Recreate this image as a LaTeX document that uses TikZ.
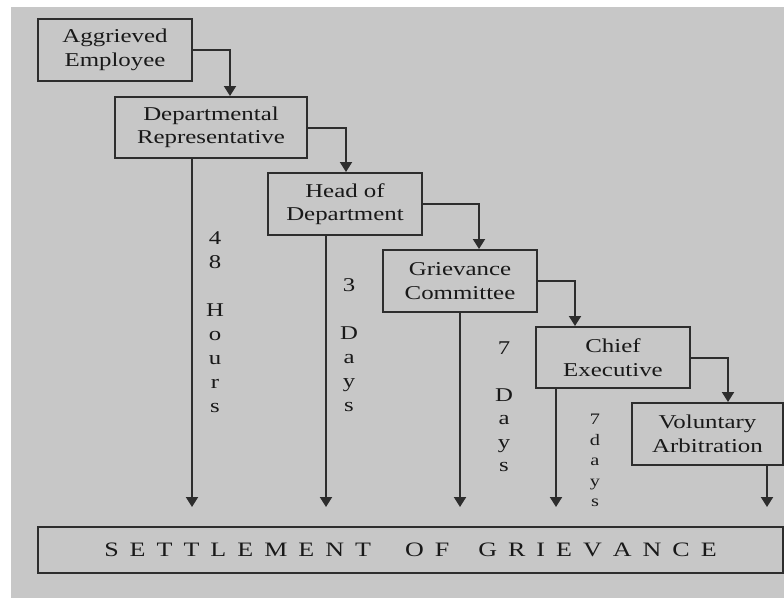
\documentclass[tikz,border=0pt]{standalone}
\usepackage{fontspec}
\setmainfont{Liberation Serif}[FakeStretch=1.27]
\usetikzlibrary{arrows.meta,calc}
\definecolor{bg}{RGB}{199,199,199}
\definecolor{ink}{RGB}{45,45,45}
\definecolor{txt}{RGB}{25,25,25}
\newcommand{\lsp}{\hspace{11pt}}
\begin{document}
\begin{tikzpicture}[x=1pt,y=-1pt,
  box/.style={draw=ink, line width=2pt, inner sep=0pt, align=center, text=txt,
    font=\fontsize{19.6}{23.5}\selectfont},
  arr/.style={draw=ink, line width=2pt, -{Triangle[width=12pt,length=10pt]}},
  vlab/.style={anchor=north, inner sep=0pt, align=center, text=txt,
    font=\fontsize{19.5}{24}\selectfont},
]
\useasboundingbox (0,0) rectangle (784,598);
\fill[white] (0,0) rectangle (784,598);
\fill[bg] (11,7) rectangle (784,598);

\node[box, minimum width=154pt, minimum height=62pt] (agg) at (115,50) {Aggrieved\\Employee};
\node[box, minimum width=192pt, minimum height=61pt] (rep) at (211,127.5) {Departmental\\Representative};
\node[box, minimum width=154pt, minimum height=62pt] (head) at (345,204) {Head of\\Department};
\node[box, minimum width=154pt, minimum height=62pt] (griev) at (460,281) {Grievance\\Committee};
\node[box, minimum width=154pt, minimum height=61pt] (chief) at (613,357.5) {Chief\\Executive};
\node[box, minimum width=151pt, minimum height=62pt] (vol) at (707.5,434) {Voluntary\\Arbitration};
\node[box, minimum width=745pt, minimum height=46pt, font=\fontsize{20.5}{24}\selectfont] (settle) at (410.5,550)
  {S\lsp E\lsp T\lsp T\lsp L\lsp E\lsp M\lsp E\lsp N\lsp T\hspace{34pt}O\lsp F\hspace{29pt}G\lsp R\lsp I\lsp E\lsp V\lsp A\lsp N\lsp C\lsp E};

% step connectors
\draw[arr] (agg.east) -| ($(rep.north)+(19,0)$);
\draw[arr] (rep.east) -| ($(head.north)+(1,0)$);
\draw[arr] (head.east) -| ($(griev.north)+(19,0)$);
\draw[arr] (griev.east) -| ($(chief.north)+(-38,0)$);
\draw[arr] (chief.east) -| ($(vol.north)+(20.5,0)$);

% down connectors to settlement
\draw[arr] ($(rep.south)+(-19,0)$) -- ($(rep.south |- settle.north)+(-19,-19)$);
\draw[arr] ($(head.south)+(-19,0)$) -- ($(head.south |- settle.north)+(-19,-19)$);
\draw[arr] (griev.south) -- ($(griev.south |- settle.north)+(0,-19)$);
\draw[arr] ($(chief.south)+(-57,0)$) -- ($(chief.south |- settle.north)+(-57,-19)$);
\draw[arr] ($(vol.south)+(59.5,0)$) -- ($(vol.south |- settle.north)+(59.5,-19)$);

% time labels
\node[vlab] (l1) at (215,231) {4\\8\\[24pt]H\\o\\u\\r\\s};
\node[vlab] (l2) at (349,278.5) {3\\[24pt]D\\a\\y\\s};
\node[vlab, font=\fontsize{19.5}{23.5}\selectfont] (l3) at (504,341.5) {7\\[23.5pt]D\\a\\y\\s};
\node[vlab, font=\fontsize{16}{20.5}\selectfont] (l4) at (595,414) {7\\d\\a\\y\\s};
\end{tikzpicture}
\end{document}
